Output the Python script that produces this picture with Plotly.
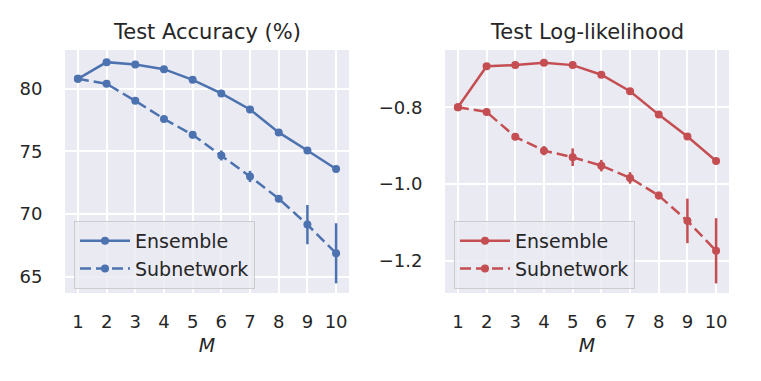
import plotly.graph_objects as go
from plotly.subplots import make_subplots

# ── datos ────────────────────────────────────────────────────────────────────
M = [1, 2, 3, 4, 5, 6, 7, 8, 9, 10]

acc_ens = [80.8, 82.13, 81.94, 81.57, 80.72, 79.63, 78.35, 76.52, 75.08, 73.6]
acc_ens_err = [0.05, 0.05, 0.05, 0.05, 0.05, 0.05, 0.05, 0.05, 0.05, 0.05]
acc_sub = [80.8, 80.4, 79.04, 77.6, 76.33, 74.68, 73.0, 71.23, 69.16, 66.87]
acc_sub_err = [0.05, 0.1, 0.12, 0.2, 0.3, 0.4, 0.45, 0.2, 1.57, 2.4]

ll_ens = [-0.8, -0.693, -0.690, -0.684, -0.690, -0.715, -0.758, -0.819, -0.876, -0.940]
ll_ens_err = [0.002, 0.002, 0.002, 0.002, 0.002, 0.002, 0.002, 0.002, 0.002, 0.002]
ll_sub = [-0.8, -0.812, -0.877, -0.913, -0.930, -0.952, -0.984, -1.030, -1.096, -1.174]
ll_sub_err = [0.002, 0.004, 0.008, 0.012, 0.023, 0.015, 0.015, 0.01, 0.058, 0.085]

BLUE = '#4C72B0'
RED = '#C44E52'
FONT = 'DejaVu Sans'
TXT = '#262626'

W, H = 761, 381

fig = make_subplots(rows=1, cols=2)


def add_pair(ens, ens_err, sub, sub_err, color, col, legend):
    for name, y, err, dash in [('Ensemble', ens, ens_err, 'solid'),
                               ('Subnetwork', sub, sub_err, '11px,5px')]:
        fig.add_trace(go.Scatter(
            x=M, y=y, name=name, mode='lines+markers',
            line=dict(color=color, width=2.5, dash=dash),
            marker=dict(color=color, size=8),
            error_y=dict(type='data', array=err, color=color, thickness=2.5, width=0),
            legend=legend,
        ), row=1, col=col)


add_pair(acc_ens, acc_ens_err, acc_sub, acc_sub_err, BLUE, 1, 'legend')
add_pair(ll_ens, ll_ens_err, ll_sub, ll_sub_err, RED, 2, 'legend2')

ax_common = dict(
    showgrid=True, gridcolor='white', gridwidth=1.5, zeroline=False, showline=False,
    ticks='outside', tickcolor='rgba(0,0,0,0)', tickfont=dict(family=FONT, size=18, color=TXT),
)

x_dom = [[65 / W, 349 / W], [445 / W, 729 / W]]
y_dom = [1 - 293 / H, 1 - 50 / H]

for i in (1, 2):
    fig.update_xaxes(
        domain=x_dom[i - 1], range=[0.55, 10.45], tickmode='array', tickvals=M,
        ticklen=12,
        title=dict(text='<i>M</i>', font=dict(family=FONT, size=19, color=TXT), standoff=8),
        row=1, col=i, **ax_common,
    )

fig.update_yaxes(domain=y_dom, range=[63.7, 83.1], tickmode='array', tickvals=[65, 70, 75, 80],
                 ticklen=18, row=1, col=1, **ax_common)
fig.update_yaxes(domain=y_dom, range=[-1.284, -0.6506], tickmode='array',
                 tickvals=[-1.2, -1.0, -0.8], ticktext=['\u22121.2', '\u22121.0', '\u22120.8'],
                 ticklen=18, row=1, col=2, **ax_common)

for xc, txt in [((65 + 349) / 2 / W, 'Test Accuracy (%)'), ((445 + 729) / 2 / W, 'Test Log-likelihood')]:
    fig.add_annotation(x=xc, y=1 - 32 / H, xref='paper', yref='paper', text=txt,
                       xanchor='center', yanchor='middle',
                       showarrow=False, font=dict(family=FONT, size=21, color=TXT))

leg = dict(xanchor='left', yanchor='top', y=1 - 221 / H, itemwidth=50,
           bgcolor='rgba(234,234,242,0.8)', bordercolor='#cccccc', borderwidth=1,
           font=dict(family=FONT, size=19, color=TXT))

fig.update_layout(
    width=W, height=H,
    margin=dict(l=0, r=0, t=0, b=0),
    plot_bgcolor='#EAEAF2', paper_bgcolor='white',
    legend=dict(x=74 / W, **leg),
    legend2=dict(x=454 / W, **leg),
    font=dict(family=FONT, color=TXT),
)

fig.write_html('out.html', config={'displayModeBar': False},
               post_script="document.body.style.margin='0';")
